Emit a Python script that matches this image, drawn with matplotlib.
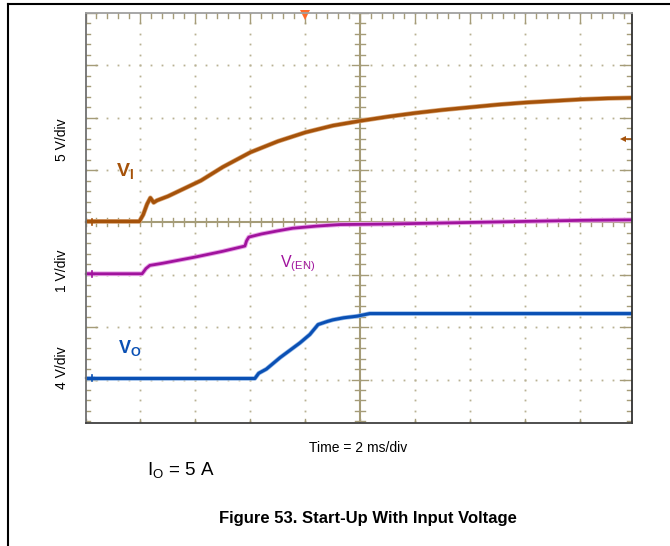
import numpy as np
import matplotlib
matplotlib.use("Agg")
import matplotlib.pyplot as plt
from matplotlib.lines import Line2D

plt.rcParams['font.family'] = ['Liberation Sans', 'DejaVu Sans']
plt.rcParams['mathtext.fontset'] = 'custom'
plt.rcParams['mathtext.rm'] = 'Liberation Sans'
plt.rcParams['mathtext.it'] = 'Liberation Sans'
plt.rcParams['mathtext.bf'] = 'Liberation Sans:bold'

# trace data, in scope divisions (x: 2 ms/div, 0 = screen centre)
vi_x = [-5.0, -4.02, -3.95, -3.88, -3.82, -3.76, -3.70, -3.5, -3.2, -2.9, -2.5, -2.0,
        -1.5, -1.0, -0.5, 0.0, 0.5, 1.0, 1.5, 2.0, 2.5, 3.0, 3.5, 4.0, 4.5, 4.94]
vi_y = [0.02, 0.02, 0.15, 0.35, 0.47, 0.38, 0.42, 0.5, 0.65, 0.8, 1.06, 1.34,
        1.55, 1.72, 1.85, 1.94, 2.02, 2.09, 2.15, 2.2, 2.25, 2.29, 2.32, 2.35, 2.37, 2.38]

ven_x = [-5.0, -3.97, -3.9, -3.83, -3.6, -3.0, -2.5, -2.1, -2.07, -2.03, -1.8, -1.5,
         -1.23, -0.8, -0.37, 0.5, 1.0, 2.0, 3.0, 4.0, 4.94]
ven_y = [-0.98, -0.98, -0.88, -0.82, -0.78, -0.66, -0.55, -0.45, -0.35, -0.28, -0.22, -0.16,
         -0.11, -0.07, -0.04, -0.03, -0.02, 0.0, 0.02, 0.04, 0.05]

vo_x = [-5.0, -1.92, -1.85, -1.71, -1.46, -1.1, -0.92, -0.77, -0.6, -0.5, -0.3, -0.06,
        0.17, 1.0, 2.0, 3.0, 4.0, 4.94]
vo_y = [-2.98, -2.98, -2.88, -2.8, -2.58, -2.30, -2.14, -1.95, -1.89, -1.86, -1.82, -1.79,
        -1.74, -1.74, -1.74, -1.74, -1.74, -1.74]

c_vi = '#a5520a'
c_ven = '#a0139d'
c_vo = '#0a50b4'
c_grid = '#a59c78'
c_dot = '#b9b293'

fig = plt.figure(figsize=(6.7, 5.46), dpi=100)
ax = fig.add_axes([85.5 / 670, 123 / 546, 546.5 / 670, 410 / 546])
X0, X1, Y0, Y1 = -5.0, 4.94, -3.83, 4.0
ax.set_xlim(X0, X1)
ax.set_ylim(Y0, Y1)
ax.set_xticks([])
ax.set_yticks([])
ax.spines['left'].set_color('#707070')
ax.spines['top'].set_color('#a0a0a0')
ax.spines['right'].set_color('#303030')
ax.spines['bottom'].set_color('#404040')
for s in ax.spines.values():
    s.set_linewidth(1.3)

px = 1 / 55.0
py = 1 / 52.4

# dotted graticule
steps_y = np.arange(-3.8, 4.01, 0.2)
steps_x = np.arange(-5.0, 4.95, 0.2)
for gx in [-4, -3, -2, -1, 1, 2, 3, 4]:
    ax.plot([gx] * len(steps_y), steps_y, ls='none', marker='s', ms=1.3, color=c_dot, mew=0)
for gy in [-3, -2, -1, 1, 2, 3]:
    ax.plot(steps_x, [gy] * len(steps_x), ls='none', marker='s', ms=1.3, color=c_dot, mew=0)

# centre axes
ax.axvline(0, color=c_grid, lw=1.5)
ax.axhline(0, color=c_grid, lw=1.5)
for t in steps_x:
    major = abs(t - round(t)) < 1e-6
    h = 4 * py
    ax.plot([t, t], [-h, h], color=c_grid, lw=1.0)
    # top edge ticks
    ht = (10 if major else 5) * py
    ax.plot([t, t], [Y1, Y1 - ht], color=c_grid, lw=1.0)
    if major:
        ax.plot([t, t], [Y0, Y0 + 4 * py], color=c_grid, lw=1.0)
for t in steps_y:
    major = abs(t - round(t)) < 1e-6
    w = (8 if major else 5) * px
    ax.plot([-w, w], [t, t], color=c_grid, lw=1.0)
    we = (12 if major else 5) * px
    ax.plot([X0, X0 + we], [t, t], color=c_grid, lw=1.0)
    ax.plot([X1, X1 - we], [t, t], color=c_grid, lw=1.0)

# traces
ax.plot(vi_x, vi_y, color='#d9a77a', lw=3.4)
ax.plot(vi_x, vi_y, color=c_vi, lw=2.4)
ax.plot(ven_x, ven_y, color='#e9a6e8', lw=3.4)
ax.plot(ven_x, ven_y, color=c_ven, lw=2.0)
ax.plot(vo_x, vo_y, color='#8fb4e6', lw=3.2)
ax.plot(vo_x, vo_y, color=c_vo, lw=2.2)

# channel ground markers on left edge
for gy, c in [(0.0, c_vi), (-0.98, c_ven), (-2.98, c_vo)]:
    ax.plot([X0, X0 + 9 * px], [gy, gy], color=c, lw=1.6, clip_on=False)
    ax.plot([X0 + 7 * px] * 2, [gy - 3 * py, gy + 3 * py], color=c, lw=1.2, clip_on=False)

# trigger marker and right-hand level arrow
ax.plot([-1.0], [Y1 - 2 * py], marker='v', ms=7, color='#ff6a2a', mew=0, clip_on=False)
ax.plot([X1 - 9 * px, X1], [1.6, 1.6], color=c_vi, lw=1.2)
ax.plot([X1 - 9 * px], [1.6], marker='<', ms=4, color=c_vi, mew=0)

# trace labels
ax.text(-4.44, 0.99, r'$\mathbf{V_I}$', color=c_vi, fontsize=14, va='center', ha='left')
ax.text(-1.46, -0.78, r'$\mathrm{V_{(EN)}}$', color=c_ven, fontsize=11.5, va='center', ha='left')
ax.text(-4.4, -2.4, r'$\mathbf{V_O}$', color=c_vo, fontsize=13, va='center', ha='left')

# channel scale labels
fig.text(62 / 670, 1 - 140 / 546, '5 V/div', rotation=90, fontsize=10, ha='center', va='center')
fig.text(62 / 670, 1 - 271 / 546, '1 V/div', rotation=90, fontsize=10, ha='center', va='center')
fig.text(62 / 670, 1 - 368 / 546, '4 V/div', rotation=90, fontsize=10, ha='center', va='center')

fig.text(358 / 670, 1 - 448 / 546, 'Time = 2 ms/div', fontsize=10, ha='center', va='center')
fig.text(147 / 670, 1 - 470 / 546, r'$\mathrm{I_O}$ = 5 A', fontsize=13.5, ha='left', va='center')
fig.text(368 / 670, 1 - 518 / 546, 'Figure 53. Start-Up With Input Voltage',
         fontsize=12, fontweight='bold', ha='center', va='center')

# page frame
fig.add_artist(Line2D([8 / 670, 1], [1 - 4 / 546, 1 - 4 / 546], color='black', lw=1.5))
fig.add_artist(Line2D([8 / 670, 8 / 670], [0, 1 - 4 / 546], color='black', lw=1.5))

fig.savefig('out.png', dpi=100)
